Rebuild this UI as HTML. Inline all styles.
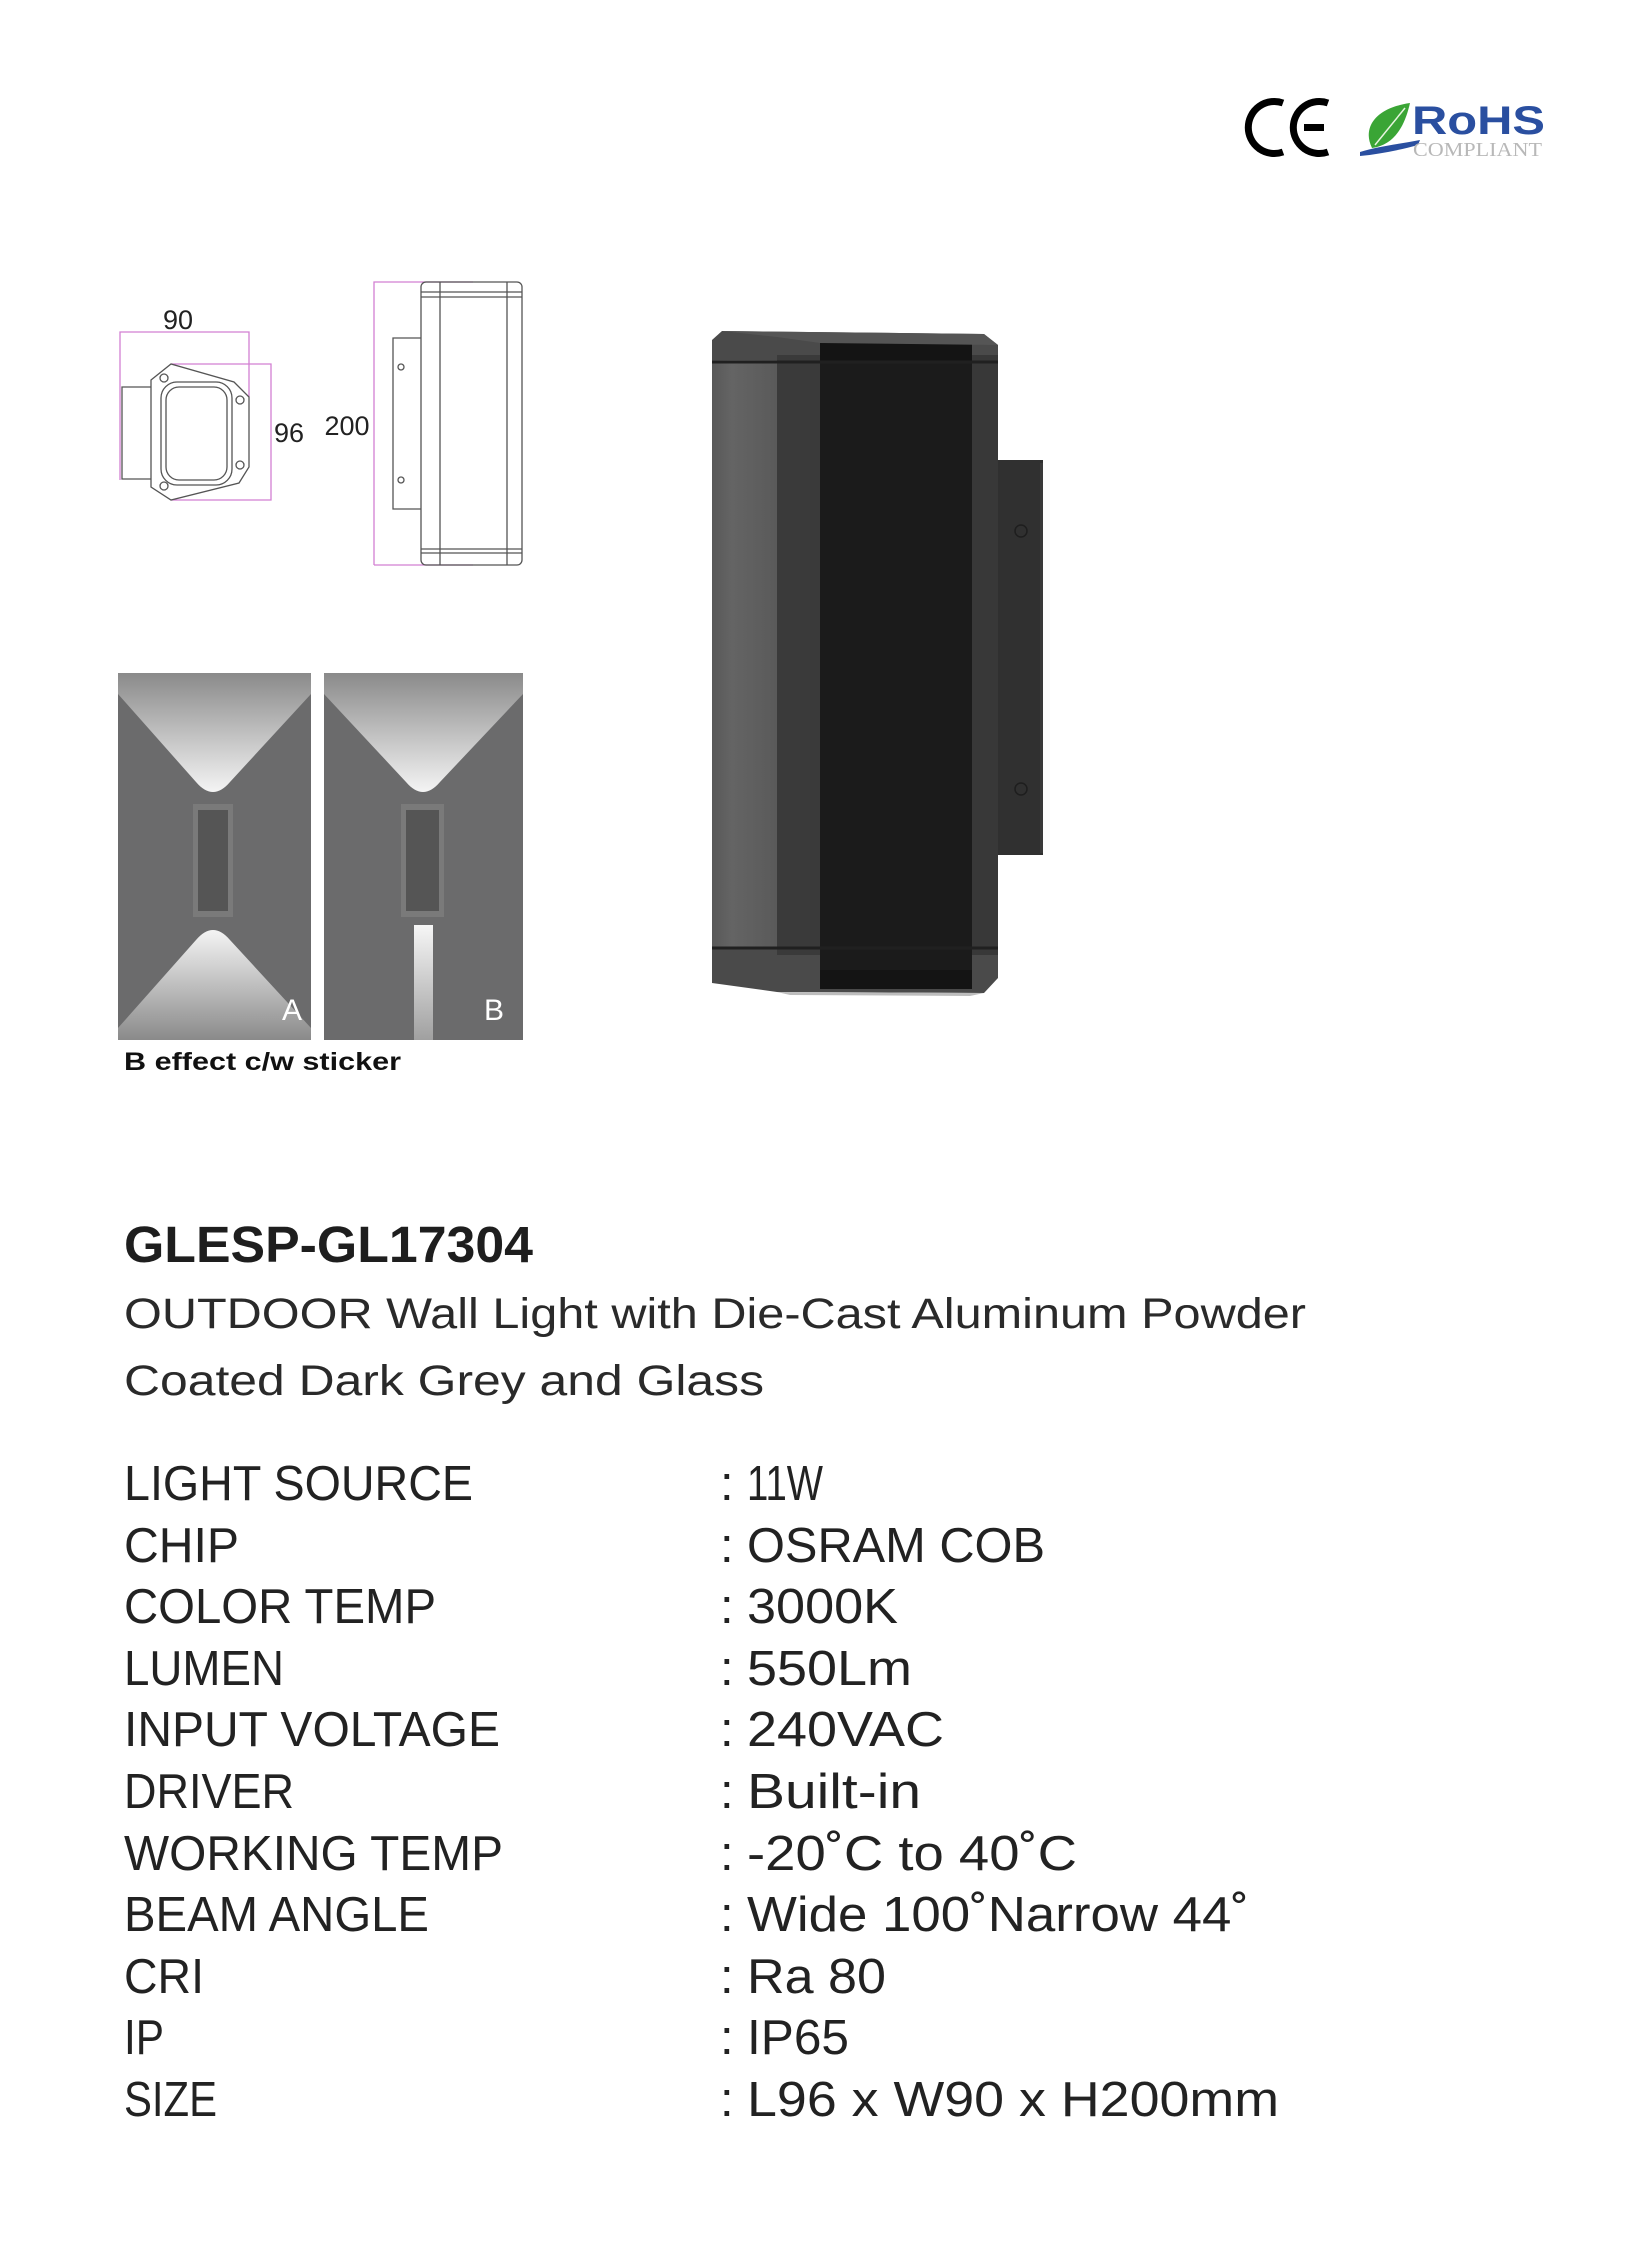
<!DOCTYPE html>
<html><head><meta charset="utf-8"><style>
html,body{margin:0;padding:0;background:#fff;}
svg{display:block;}
text{font-family:"Liberation Sans",sans-serif;}
</style></head><body>
<svg width="1625" height="2250" viewBox="0 0 1625 2250" xmlns="http://www.w3.org/2000/svg">
<defs>
<linearGradient id="cu" x1="0" y1="0" x2="0" y2="1"><stop offset="0" stop-color="#8a8a8a"/><stop offset="1" stop-color="#f4f4f4"/></linearGradient>
<linearGradient id="cd" x1="0" y1="0" x2="0" y2="1"><stop offset="0" stop-color="#f4f4f4"/><stop offset="1" stop-color="#8a8a8a"/></linearGradient>
<linearGradient id="st" x1="0" y1="0" x2="0" y2="1"><stop offset="0" stop-color="#f6f6f6"/><stop offset="1" stop-color="#a0a0a0"/></linearGradient>
<linearGradient id="ls" x1="0" y1="0" x2="1" y2="0"><stop offset="0" stop-color="#585858"/><stop offset="0.3" stop-color="#646464"/><stop offset="1" stop-color="#5a5a5a"/></linearGradient>
</defs>
<rect width="1625" height="2250" fill="#fff"/>
<!-- CE -->
<path d="M1283,103 A26,26 0 1 0 1283,152" fill="none" stroke="#000" stroke-width="7"/>
<path d="M1328,103 A26,26 0 1 0 1328,152 M1304,127.5 L1324,127.5" fill="none" stroke="#000" stroke-width="7"/>
<!-- RoHS -->
<path d="M1372,148 C1362,128 1375,108 1410,103 C1405,125 1395,145 1372,148 Z" fill="#3aa535"/>
<path d="M1375,145 L1405,108" stroke="#e8f5e0" stroke-width="1.5"/>
<path d="M1360,152 C1380,146 1400,144 1420,140 L1418,145 C1400,150 1380,154 1360,156 Z" fill="#2a4fa0"/>
<text x="1412" y="134" font-size="40" font-weight="bold" fill="#2a4fa0" textLength="133" lengthAdjust="spacingAndGlyphs">RoHS</text>
<text x="1413" y="156" font-size="20" fill="#b8b8b8" textLength="129" lengthAdjust="spacingAndGlyphs" style="font-family:'Liberation Serif',serif">COMPLIANT</text>
<!-- top view drawing -->
<g fill="none" stroke="#d27fd2" stroke-width="1.3">
<path d="M120,480 L120,332 L249,332 L249,397"/>
<path d="M171,364 L271,364 L271,500 L171,500"/>
<path d="M374,565 L374,282 L473,282 M374,565 L473,565"/>
</g>
<g fill="none" stroke="#555" stroke-width="1.3">
<path d="M151,380 L171,364 L234,382 L249,397 L249,467 L239,483 L171,500 L151,487 Z"/>
<rect x="161" y="382" width="71" height="103" rx="16"/>
<rect x="166" y="387" width="61" height="93" rx="13"/>
<path d="M151,387 L122,387 L122,479 L151,479"/>
<circle cx="164" cy="378" r="4"/><circle cx="240" cy="400" r="4"/><circle cx="240" cy="465" r="4"/><circle cx="164" cy="486" r="4"/>
<rect x="421" y="282" width="101" height="283" rx="5"/>
<path d="M440,282 L440,565 M507,282 L507,565 M421,292 L522,292 M421,297 L522,297 M421,549 L522,549 M421,553 L522,553"/>
<path d="M421,338 L393,338 L393,509 L421,509"/>
<circle cx="401" cy="367" r="3"/><circle cx="401" cy="480" r="3"/>
</g>
<text x="178" y="329" font-size="27" text-anchor="middle" fill="#222">90</text>
<text x="289" y="442" font-size="27" text-anchor="middle" fill="#222">96</text>
<text x="347" y="435" font-size="27" text-anchor="middle" fill="#222">200</text>
<!-- Panel A -->
<rect x="118" y="673" width="193" height="367" fill="#6b6b6c"/>
<path d="M118,673 L311,673 L311,694 L230,782 Q213,802 196,782 L118,694 Z" fill="url(#cu)"/>
<path d="M118,1040 L311,1040 L311,1028 L230,940 Q213,920 196,940 L118,1028 Z" fill="url(#cd)"/>
<rect x="193" y="804" width="40" height="113" fill="#7a7a7a"/>
<rect x="198" y="810" width="30" height="101" fill="#555"/>
<text x="292" y="1020" font-size="30" text-anchor="middle" fill="#fff">A</text>
<!-- Panel B -->
<rect x="324" y="673" width="199" height="367" fill="#6b6b6c"/>
<path d="M324,673 L523,673 L523,694 L440,782 Q423,802 406,782 L324,694 Z" fill="url(#cu)"/>
<rect x="401" y="804" width="43" height="113" fill="#7a7a7a"/>
<rect x="406" y="810" width="33" height="101" fill="#555"/>
<rect x="414" y="925" width="19" height="115" fill="url(#st)"/>
<text x="494" y="1020" font-size="30" text-anchor="middle" fill="#fff">B</text>
<text x="124" y="1070" font-size="25" font-weight="bold" fill="#111" textLength="277" lengthAdjust="spacingAndGlyphs">B effect c/w sticker</text>
<!-- Lamp -->
<rect x="996" y="460" width="47" height="395" fill="#303030"/>
<rect x="1040" y="463" width="3" height="390" fill="#3a3a3a"/>
<circle cx="1021" cy="531" r="6" fill="none" stroke="#1e1e1e" stroke-width="1.5"/>
<circle cx="1021" cy="789" r="6" fill="none" stroke="#1e1e1e" stroke-width="1.5"/>
<path d="M722,331 L984,334 L998,345 L998,978 L984,993 L777,992 L712,983 L712,340 Z" fill="#4a4a4a"/>
<rect x="712" y="360" width="65" height="588" fill="url(#ls)"/>
<rect x="777" y="355" width="43" height="600" fill="#3a3a3a"/>
<rect x="972" y="355" width="26" height="600" fill="#383838"/>
<rect x="820" y="343" width="152" height="646" fill="#1b1b1b"/>
<rect x="820" y="343" width="152" height="18" fill="#141414"/>
<rect x="820" y="970" width="152" height="19" fill="#141414"/>
<path d="M712,362 L998,362" stroke="#202020" stroke-width="3"/>
<path d="M712,948 L998,948" stroke="#202020" stroke-width="3"/>
<path d="M722,331 L984,334 L998,345 L820,343 L777,337 Z" fill="#555"/>
<path d="M777,992 L984,993 L970,996 L790,995 Z" fill="#bdbdbd"/>
<!-- Title / description -->
<text x="124" y="1262" font-size="51" font-weight="bold" fill="#1e1e1e" textLength="409" lengthAdjust="spacingAndGlyphs">GLESP-GL17304</text>
<g font-size="43" fill="#2a2a2a">
<text x="124" y="1328" textLength="1182" lengthAdjust="spacingAndGlyphs">OUTDOOR Wall Light with Die-Cast Aluminum Powder</text>
<text x="124" y="1395" textLength="640" lengthAdjust="spacingAndGlyphs">Coated Dark Grey and Glass</text>
</g>
<!-- specs -->
<g font-size="49" fill="#222">
<text x="124" y="1500" textLength="349" lengthAdjust="spacingAndGlyphs">LIGHT SOURCE</text>
<text x="124" y="1562" textLength="115" lengthAdjust="spacingAndGlyphs">CHIP</text>
<text x="124" y="1623" textLength="312" lengthAdjust="spacingAndGlyphs">COLOR TEMP</text>
<text x="124" y="1685" textLength="160" lengthAdjust="spacingAndGlyphs">LUMEN</text>
<text x="124" y="1746" textLength="376" lengthAdjust="spacingAndGlyphs">INPUT VOLTAGE</text>
<text x="124" y="1808" textLength="170" lengthAdjust="spacingAndGlyphs">DRIVER</text>
<text x="124" y="1870" textLength="379" lengthAdjust="spacingAndGlyphs">WORKING TEMP</text>
<text x="124" y="1931" textLength="305" lengthAdjust="spacingAndGlyphs">BEAM ANGLE</text>
<text x="124" y="1993" textLength="80" lengthAdjust="spacingAndGlyphs">CRI</text>
<text x="124" y="2054" textLength="40" lengthAdjust="spacingAndGlyphs">IP</text>
<text x="124" y="2116" textLength="93" lengthAdjust="spacingAndGlyphs">SIZE</text>
<text x="720" y="1500">:</text><text x="747" y="1500" textLength="76" lengthAdjust="spacingAndGlyphs">11W</text>
<text x="720" y="1562">:</text><text x="747" y="1562" textLength="298" lengthAdjust="spacingAndGlyphs">OSRAM COB</text>
<text x="720" y="1623">:</text><text x="747" y="1623" textLength="151" lengthAdjust="spacingAndGlyphs">3000K</text>
<text x="720" y="1685">:</text><text x="747" y="1685" textLength="165" lengthAdjust="spacingAndGlyphs">550Lm</text>
<text x="720" y="1746">:</text><text x="747" y="1746" textLength="197" lengthAdjust="spacingAndGlyphs">240VAC</text>
<text x="720" y="1808">:</text><text x="747" y="1808" textLength="174" lengthAdjust="spacingAndGlyphs">Built-in</text>
<text x="720" y="1870">:</text><text x="747" y="1870" textLength="330" lengthAdjust="spacingAndGlyphs">-20˚C to 40˚C</text>
<text x="720" y="1931">:</text><text x="747" y="1931" textLength="502" lengthAdjust="spacingAndGlyphs">Wide 100˚Narrow 44˚</text>
<text x="720" y="1993">:</text><text x="747" y="1993" textLength="139" lengthAdjust="spacingAndGlyphs">Ra 80</text>
<text x="720" y="2054">:</text><text x="747" y="2054" textLength="102" lengthAdjust="spacingAndGlyphs">IP65</text>
<text x="720" y="2116">:</text><text x="747" y="2116" textLength="532" lengthAdjust="spacingAndGlyphs">L96 x W90 x H200mm</text>
</g>
</svg>
</body></html>
